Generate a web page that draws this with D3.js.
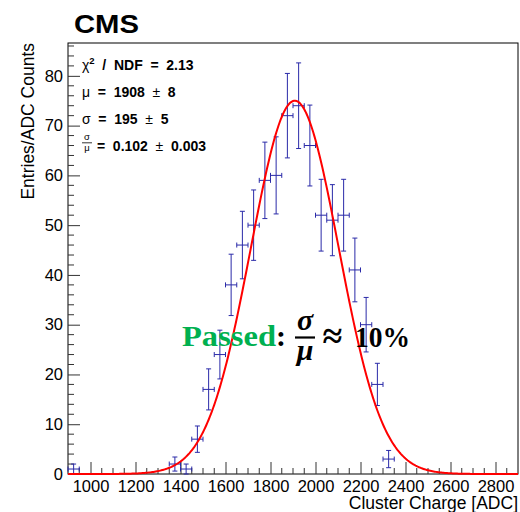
<!DOCTYPE html>
<html>
<head>
<meta charset="utf-8">
<script src="https://cdn.jsdelivr.net/npm/d3@7"></script>
<style>
  html, body { margin: 0; padding: 0; background: #fff; }
  svg { display: block; }
</style>
</head>
<body>
<div id="chart"></div>
<script>
// ---- data ----
const binCenters = [925, 1375, 1425, 1475, 1525, 1575, 1625, 1675, 1725, 1775, 1825, 1875, 1925, 1975, 2025, 2075, 2125, 2175, 2225, 2275, 2325];
const counts     = [1,   2,    1,    7,    17,   24,   38,   46,   50,   59,   60,   72,   74,   66,   52,   51,   52,   41,   30,   18,   3];
const binWidth = 50;
const fitAmplitude = 75;
const fitMean = 1908;
const fitSigma = 195;
const xMajorTicks = [1000, 1200, 1400, 1600, 1800, 2000, 2200, 2400, 2600, 2800];
const yMajorTicks = [0, 10, 20, 30, 40, 50, 60, 70, 80];
const statLines = [
  [{t: "\u03C7", w: "normal"}, {t: "2", w: "bold", sup: true}, {t: " / NDF = 2.13", w: "bold"}],
  [{t: "\u03BC", w: "normal"}, {t: " = 1908 ", w: "bold"}, {t: "\u00B1", w: "normal"}, {t: " 8", w: "bold"}],
  [{t: "\u03C3", w: "normal"}, {t: " = 195 ", w: "bold"}, {t: "\u00B1", w: "normal"}, {t: " 5", w: "bold"}],
];

const W = 520, H = 512;
const L = 68, R = 518, T = 43, B = 474;
const sans = "'Liberation Sans', Arial, Helvetica, sans-serif";
const serif = "'Liberation Serif', 'DejaVu Serif', serif";

const svg = d3.select("#chart").append("svg").attr("width", W).attr("height", H);
svg.append("rect").attr("width", W).attr("height", H).attr("fill", "#fff");

const x = d3.scaleLinear().domain([900, 2900]).range([L, R]);
const y = d3.scaleLinear().domain([0, 86.6]).range([B, T]);

// frame
svg.append("rect").attr("x", L).attr("y", T).attr("width", R - L).attr("height", B - T)
  .attr("fill", "none").attr("stroke", "#000").attr("stroke-width", 1);

// x ticks
const xMinor = d3.range(950, 2900, 50).filter(v => !xMajorTicks.includes(v));
const gx = svg.append("g").attr("transform", `translate(0,${B})`);
gx.call(d3.axisBottom(x).tickValues(xMajorTicks).tickSize(-12).tickPadding(6).tickFormat(d3.format("d")))
  .call(g => g.select(".domain").remove())
  .call(g => g.selectAll(".tick line").attr("stroke", "#333"))
  .call(g => g.selectAll(".tick text").attr("font-family", sans).attr("font-size", 16.5).attr("fill", "#000").attr("dy", "0.71em"));
gx.selectAll(".minor").data(xMinor).join("line").attr("class", "minor")
  .attr("x1", d => x(d)).attr("x2", d => x(d)).attr("y1", 0).attr("y2", -6).attr("stroke", "#333");

// y ticks
const yMinor = d3.range(0, 87, 2).filter(v => !yMajorTicks.includes(v));
const gy = svg.append("g").attr("transform", `translate(${L},0)`);
gy.call(d3.axisLeft(y).tickValues(yMajorTicks).tickSize(-12).tickPadding(5))
  .call(g => g.select(".domain").remove())
  .call(g => g.selectAll(".tick line").attr("stroke", "#333"))
  .call(g => g.selectAll(".tick text").attr("font-family", sans).attr("font-size", 16.5).attr("fill", "#000"));
gy.selectAll(".minor").data(yMinor).join("line").attr("class", "minor")
  .attr("x1", 0).attr("x2", 6).attr("y1", d => y(d)).attr("y2", d => y(d)).attr("stroke", "#333");

// axis titles
svg.append("text").attr("x", R).attr("y", 509).attr("text-anchor", "end")
  .attr("font-family", sans).attr("font-size", 17.5).text("Cluster Charge [ADC]");
svg.append("text").attr("transform", `translate(34,${T}) rotate(-90)`).attr("text-anchor", "end")
  .attr("font-family", sans).attr("font-size", 17.5).text("Entries/ADC Counts");

// CMS
svg.append("text").attr("x", 74).attr("y", 33).attr("font-family", sans).attr("font-weight", "bold")
  .attr("font-size", 26).attr("textLength", 65).attr("lengthAdjust", "spacingAndGlyphs").text("CMS");

// data points with error bars
const pts = binCenters.map((c, i) => ({c, n: counts[i], e: Math.sqrt(counts[i])}));
const gp = svg.append("g").attr("stroke", "#2a2aa8").attr("stroke-width", 1).attr("fill", "none");
const cap = 2.5;
pts.forEach(p => {
  const cx = x(p.c), cy = y(p.n);
  const yt = y(p.n + p.e), yb = y(p.n - p.e);
  const xl = x(p.c - binWidth / 2), xr = x(p.c + binWidth / 2);
  gp.append("line").attr("x1", cx).attr("x2", cx).attr("y1", yt).attr("y2", yb);
  gp.append("line").attr("x1", cx - cap).attr("x2", cx + cap).attr("y1", yt).attr("y2", yt);
  gp.append("line").attr("x1", cx - cap).attr("x2", cx + cap).attr("y1", yb).attr("y2", yb);
  gp.append("line").attr("x1", xl).attr("x2", xr).attr("y1", cy).attr("y2", cy);
  gp.append("line").attr("x1", xl).attr("x2", xl).attr("y1", cy - cap).attr("y2", cy + cap);
  gp.append("line").attr("x1", xr).attr("x2", xr).attr("y1", cy - cap).attr("y2", cy + cap);
});

// gaussian fit
const fitX = d3.range(900, 2900.1, 5);
const gauss = v => fitAmplitude * Math.exp(-0.5 * Math.pow((v - fitMean) / fitSigma, 2));
svg.append("path").datum(fitX)
  .attr("d", d3.line().x(d => x(d)).y(d => y(gauss(d))).curve(d3.curveLinear))
  .attr("fill", "none").attr("stroke", "#ff0000").attr("stroke-width", 2);

// stats text
const statY = [70, 97, 124];
statLines.forEach((parts, i) => {
  const t = svg.append("text").attr("x", 82).attr("y", statY[i]).attr("font-family", sans)
    .attr("font-size", 14).attr("word-spacing", 3.8);
  parts.forEach((p, j) => {
    const s = t.append("tspan").attr("font-weight", p.w).text(p.t);
    if (p.sup) s.attr("font-size", 9.5).attr("dy", -6);
    else if (j > 0 && parts[j - 1].sup) s.attr("dy", 6);
  });
});
// fraction sigma / mu
svg.append("text").attr("x", 87).attr("y", 140.3).attr("text-anchor", "middle")
  .attr("font-family", sans).attr("font-size", 9.5).text("\u03C3");
svg.append("line").attr("x1", 82).attr("x2", 92).attr("y1", 142.8).attr("y2", 142.8).attr("stroke", "#000").attr("stroke-width", 0.8);
svg.append("text").attr("x", 87).attr("y", 151.3).attr("text-anchor", "middle")
  .attr("font-family", sans).attr("font-size", 9.5).text("\u03BC");
const t4 = svg.append("text").attr("x", 97).attr("y", 151).attr("font-family", sans)
  .attr("font-size", 14).attr("word-spacing", 3.8);
t4.append("tspan").attr("font-weight", "bold").text("= 0.102 ");
t4.append("tspan").attr("font-weight", "normal").text("\u00B1");
t4.append("tspan").attr("font-weight", "bold").text(" 0.003");

// annotation
const ann = svg.append("g").attr("font-family", serif).attr("font-weight", "bold");
ann.append("text").attr("x", 182).attr("y", 346).attr("font-size", 30).attr("fill", "#00B050")
  .attr("textLength", 94).attr("lengthAdjust", "spacingAndGlyphs").text("Passed");
ann.append("text").attr("x", 276).attr("y", 346).attr("font-size", 30).attr("fill", "#000").text(":");
ann.append("text").attr("x", 305).attr("y", 330).attr("text-anchor", "middle").attr("font-size", 30)
  .attr("font-style", "italic").text("\u03C3");
ann.append("line").attr("x1", 295).attr("x2", 315).attr("y1", 337.5).attr("y2", 337.5).attr("stroke", "#000").attr("stroke-width", 2.2);
ann.append("text").attr("x", 305).attr("y", 360).attr("text-anchor", "middle").attr("font-size", 30)
  .attr("font-style", "italic").text("\u03BC");
ann.append("text").attr("x", 332.5).attr("y", 348).attr("text-anchor", "middle").attr("font-size", 36).text("\u2248");
ann.append("text").attr("x", 355).attr("y", 346.5).attr("font-size", 30)
  .attr("textLength", 55).attr("lengthAdjust", "spacingAndGlyphs").text("10%");
</script>
</body>
</html>
